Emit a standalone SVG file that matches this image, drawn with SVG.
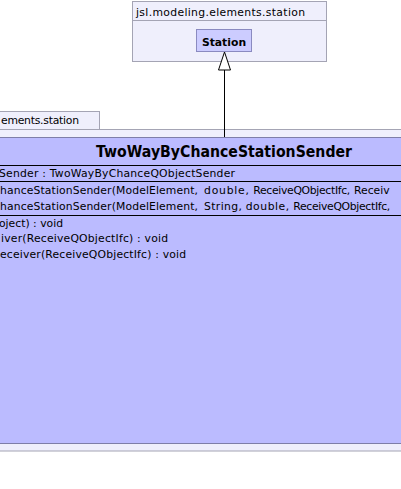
<svg xmlns="http://www.w3.org/2000/svg" width="401" height="489" viewBox="0 0 401 489">
<style>
.pkg{fill:#EFEFFC;stroke:#A4A4B4;stroke-width:1}
.cls{fill:#BBBBFF;stroke:#7E7EA8;stroke-width:1}
.sep{stroke:#000;stroke-width:1}
.st{fill:#CCCCFF;stroke:#8A8AC0;stroke-width:1}
.t{font-family:"DejaVu Sans","Liberation Sans",sans-serif;font-size:10.8px;fill:#000}
.b{font-weight:bold}
</style>
<g id="pkg-station-top">
<rect class="pkg" x="132.5" y="1.5" width="194" height="60"/>
<line x1="132.5" y1="20.5" x2="326.5" y2="20.5" stroke="#A4A4B4"/>
<text class="t" x="136" y="16" textLength="169">jsl.modeling.elements.station</text>
</g>
<g id="node-station">
<rect class="st" x="196.5" y="29.5" width="55" height="22"/>
<text class="t b" x="224" y="45.5" text-anchor="middle">Station</text>
</g>
<g id="pkg-station-lower">
<rect class="pkg" x="-5.5" y="111.5" width="105" height="18"/>
<rect class="pkg" x="-5.5" y="129.5" width="412" height="321.5"/>
<text class="t" x="1" y="124" textLength="78">ements.station</text>
</g>
<g id="node-sender">
<rect class="cls" x="-5.5" y="137.5" width="412" height="306"/>
<text class="t b" x="224" y="156.5" text-anchor="middle" style="font-size:16.5px" textLength="256" lengthAdjust="spacingAndGlyphs">TwoWayByChanceStationSender</text>
<line class="sep" x1="-5" y1="165.5" x2="406" y2="165.5"/>
<text class="t" x="-1" y="177" textLength="236">Sender : TwoWayByChanceQObjectSender</text>
<line class="sep" x1="-5" y1="181.5" x2="406" y2="181.5"/>
<text class="t" x="0" y="194" textLength="198">hanceStationSender(ModelElement,</text>
<text class="t" x="204" y="194" textLength="45">double,</text>
<text class="t" x="253.3" y="194" textLength="97">ReceiveQObjectIfc,</text>
<text class="t" x="354" y="194">Receiv</text>
<text class="t" x="0" y="209.5" textLength="198">hanceStationSender(ModelElement,</text>
<text class="t" x="204" y="209.5" textLength="38">String,</text>
<text class="t" x="245.7" y="209.5" textLength="43.5">double,</text>
<text class="t" x="293.3" y="209.5" textLength="97">ReceiveQObjectIfc,</text>
<line class="sep" x1="-5" y1="215.5" x2="406" y2="215.5"/>
<text class="t" x="-1" y="226.5" textLength="64">oject) : void</text>
<text class="t" x="1" y="242" textLength="167">iver(ReceiveQObjectIfc) : void</text>
<text class="t" x="0" y="257.5" textLength="186">eceiver(ReceiveQObjectIfc) : void</text>
</g>
<g id="connectors">
<line x1="224.5" y1="70" x2="224.5" y2="137" stroke="#000" stroke-width="1"/>
<polygon points="224.5,52 218.5,70 230.5,70" fill="#FFFFFF" stroke="#000" stroke-width="1"/>
</g>
</svg>
